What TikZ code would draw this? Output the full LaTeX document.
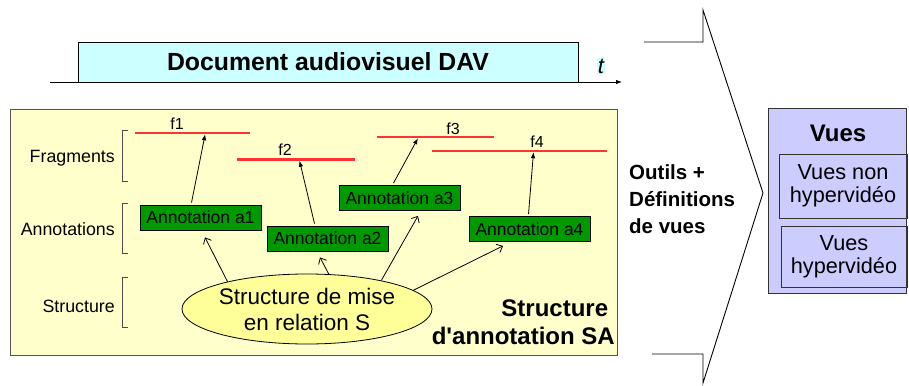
\documentclass[tikz,border=0pt]{standalone}
\usepackage{fontspec}
\setmainfont{Liberation Sans}
\usetikzlibrary{arrows.meta,calc,shapes.geometric}
\definecolor{davcyan}{HTML}{CCFFFF}
\definecolor{sayellow}{HTML}{FFFFCC}
\definecolor{ellyellow}{HTML}{FFFF99}
\definecolor{annotgreen}{HTML}{009900}
\definecolor{fragred}{HTML}{FF3333}
\definecolor{vueblue}{HTML}{CCCCFF}
\definecolor{frame}{HTML}{555555}
\newcommand{\fsz}[2]{\fontsize{#1}{#2}\selectfont}
\tikzset{
  davbox/.style={draw=black, line width=0.8pt, fill=davcyan, minimum width=500pt, minimum height=40pt, inner sep=0pt, font=\fsz{24.8}{28}\bfseries},
  sabox/.style={draw=frame, line width=1pt, fill=sayellow, inner sep=0pt},
  annot/.style={draw=black, line width=0.8pt, fill=annotgreen, minimum width=121pt, minimum height=25pt, inner sep=0pt, font=\fsz{17.5}{20}},
  frag/.style={fill=fragred, minimum height=2.5pt, inner sep=0pt, outer sep=0pt},
  fraglabel/.style={font=\fsz{16}{18}, inner sep=0pt},
  levlabel/.style={font=\fsz{17.8}{20}, anchor=east, inner sep=0pt},
  brk/.style={draw=black!70, line width=0.9pt},
  up/.style={draw=black, line width=0.8pt, -{Latex[length=6pt,width=4.5pt]}},
  rel/.style={draw=black, line width=0.8pt, -{Straight Barb[length=5pt,width=9pt]}},
  vuebox/.style={draw=black!80, line width=0.9pt, fill=vueblue, inner sep=0pt},
  vueinner/.style={draw=black!80, line width=0.8pt, inner sep=0pt, align=center, font=\fsz{21.7}{23}},
}
\begin{document}
\begin{tikzpicture}[x=1pt,y=-1pt]
\useasboundingbox (0,0) rectangle (909,385);
% DAV
\node[davbox] (dav) at (328,62) {Document audiovisuel DAV};
\coordinate (ax0) at (50,82);
\coordinate (ax1) at (622,82);
\draw[line width=0.8pt, -{Latex[length=6pt,width=4.5pt]}] (ax0) -- (ax1);
\node[fill=davcyan, inner sep=1pt, font=\fsz{22}{24}\itshape] (t) at (601,66) {t};
% SA box
\node[sabox, minimum width=607pt, minimum height=245pt] (sa) at (313.5,232.5) {};
% level labels and brackets
\node[levlabel] (lf) at (115,158) {Fragments};
\node[levlabel] (la) at (115,229) {Annotations};
\node[levlabel] (ls) at (115,306) {Structure};
\draw[brk] (128,130) -- (122,130) -- (122,181) -- (128,181);
\draw[brk] (128,203) -- (122,203) -- (122,253) -- (128,253);
\draw[brk] (128,277) -- (122,277) -- (122,327) -- (128,327);
% fragments
\node[frag, minimum width=115pt] (f1) at (192.5,133) {};
\node[frag, minimum width=118pt] (f2) at (296,159.5) {};
\node[frag, minimum width=117pt] (f3) at (435.5,137) {};
\node[frag, minimum width=175pt] (f4) at (519.5,151) {};
\node[fraglabel] (f1l) at (177,124) {f1};
\node[fraglabel] (f2l) at (285,150) {f2};
\node[fraglabel] (f3l) at (453,129) {f3};
\node[fraglabel] (f4l) at (537,142) {f4};
% annotations
\node[annot] (a1) at (200.5,217.5) {Annotation a1};
\node[annot] (a2) at (327.5,238.5) {Annotation a2};
\node[annot] (a3) at (399.5,198) {Annotation a3};
\node[annot] (a4) at (529.5,229) {Annotation a4};
% structure ellipse
\node[ellipse, draw=black, line width=0.8pt, fill=ellyellow, minimum width=250pt, minimum height=70pt, inner sep=0pt, align=center, font=\fsz{22.5}{26}] (s) at (307,309) {Structure de mise\\en relation S};
% arrows annotation -> fragment
\draw[up] ([xshift=-9pt,yshift=2pt]a1.north) -- ($(f1.south west)!0.61!(f1.south east)$);
\draw[up] ([xshift=-13pt,yshift=2pt]a2.north) -- ($(f2.south west)!0.53!(f2.south east)$);
\draw[up] ([xshift=-6pt,yshift=2pt]a3.north) -- ($(f3.south west)!0.35!(f3.south east)$);
\draw[up] ([xshift=-1pt,yshift=2pt]a4.north) -- ($(f4.south west)!0.58!(f4.south east)$);
% arrows structure -> annotations
\draw[rel] (s.161) -- ([xshift=4.5pt,yshift=-7pt]a1.south);
\draw[rel] (s.58) -- ([xshift=-7.5pt,yshift=-6pt]a2.south);
\draw[rel] (s.21) -- ([xshift=18.5pt,yshift=-5pt]a3.south);
\draw[rel] (s.10) -- ([xshift=-26.5pt,yshift=-4pt]a4.south);
% SA label
\node[anchor=east, align=right, inner sep=0pt, font=\fsz{24}{28}\bfseries] (salabel) at (615,322) {Structure\hspace*{6.7pt}\\d\textquotesingle annotation SA};
% chevron
\draw[black, line width=0.9pt] (644,42) -- (703,42) -- (703,10) -- (763,193) -- (703,383) -- (703,354) -- (652,354);
\node[anchor=west, align=left, inner sep=0pt, font=\fsz{20.5}{27}\bfseries] (outils) at (629,199) {Outils +\\Définitions\\de vues};
% vues
\node[vuebox, minimum width=138pt, minimum height=185pt] (vues) at (837,200.5) {};
\node[inner sep=0pt, font=\fsz{24}{26}\bfseries] (vt) at (838,133) {Vues};
\node[vueinner, minimum width=128pt, minimum height=64pt] (v1) at (843,186) {Vues non\\hypervidéo};
\node[vueinner, minimum width=126pt, minimum height=61pt] (v2) at (844,256.5) {Vues\\hypervidéo};
\end{tikzpicture}
\end{document}
